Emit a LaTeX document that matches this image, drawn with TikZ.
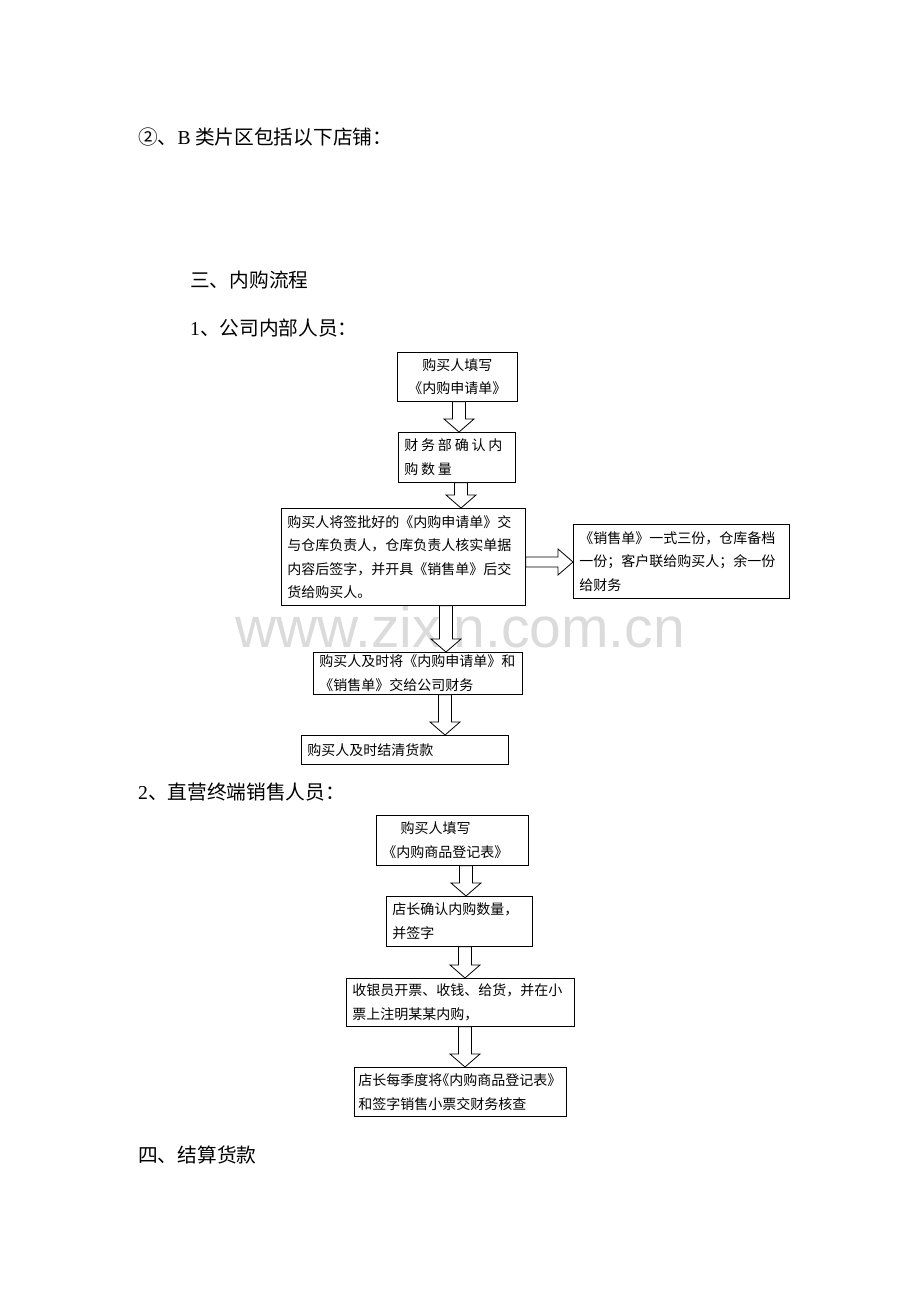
\documentclass[tikz,border=0pt]{standalone}
\usepackage{fontspec}
\setmainfont{Liberation Serif}
\newfontfamily\cjk{Noto Sans CJK SC}
\newfontfamily\wmfont{Liberation Sans}
\usetikzlibrary{calc}
\tikzset{
    box/.style={
           rectangle,
           draw=black, line width=0.8pt,
           fill=white,
           anchor=north west,
           align=left,
           inner xsep=6pt,
           inner ysep=0pt,
           font=\cjk\fontsize{14pt}{23.5pt}\selectfont,
           },
    title/.style={
           anchor=west,
           inner sep=0pt,
           font=\cjk\fontsize{19.7pt}{24pt}\selectfont,
           },
    hollow/.style={draw=black, line width=0.8pt, fill=white},
}
% hollow block arrows, from box to box at a given x (or y)
\newcommand{\hollowdown}[3]{%
    \path (#1.south -| #3,0) coordinate (s) (#2.north -| #3,0) coordinate (t);
    \draw[hollow] ($(s)+(-6.5,0)$) -- ($(t)+(-6.5,-13)$) -- ($(t)+(-15,-13)$) -- (t)
        -- ($(t)+(15,-13)$) -- ($(t)+(6.5,-13)$) -- ($(s)+(6.5,0)$) -- cycle;
}
\newcommand{\hollowright}[3]{%
    \path (#1.east |- 0,#3) coordinate (s) (#2.west |- 0,#3) coordinate (t);
    \draw[hollow] ($(s)+(0,-5)$) -- ($(t)+(-15,-5)$) -- ($(t)+(-15,-13)$) -- (t)
        -- ($(t)+(-15,13)$) -- ($(t)+(-15,5)$) -- ($(s)+(0,5)$) -- cycle;
}

\begin{document}
\begin{tikzpicture}[x=1pt,y=-1pt]

    \useasboundingbox (0,0) rectangle (920,1302);

    % watermark
    \node[font=\wmfont\fontsize{57pt}{57pt}\selectfont,text=black!14,inner sep=0pt]
        (wm) at (460,627) {www.zixin.com.cn};

    % headings
    \node[title] (hB)   at (138,137)  {②、{\rmfamily B} 类片区包括以下店铺：};
    \node[title] (hIII) at (190,280)  {三、内购流程};
    \node[title] (hOne) at (190,328)  {{\rmfamily 1}、公司内部人员：};
    \node[title] (hTwo) at (138,792)  {{\rmfamily 2}、直营终端销售人员：};
    \node[title] (hIV)  at (138,1155) {四、结算货款};

    % 1. company staff
    \node[box,align=center,text width=108pt,minimum height=49pt]
        (A1) at (397,352) {购买人填写\\《内购申请单》};
    \node[box,text width=105pt,minimum height=50pt]
        (A2) at (398,432) {\addfontfeature{LetterSpace=20}财务部确认内\\购数量};
    \node[box,text width=232pt,minimum height=97pt]
        (A3) at (281,508) {购买人将签批好的《内购申请单》交\\与仓库负责人，仓库负责人核实单据\\内容后签字，并开具《销售单》后交\\货给购买人。};
    \node[box,text width=204pt,minimum height=74pt]
        (A4) at (573,524) {《销售单》一式三份，仓库备档\\一份；客户联给购买人；余一份\\给财务};
    \node[box,text width=197pt,minimum height=42pt]
        (A5) at (313,652) {购买人及时将《内购申请单》和\\《销售单》交给公司财务};
    \node[box,text width=195pt,minimum height=29pt]
        (A6) at (301,735) {购买人及时结清货款};

    \hollowdown{A1}{A2}{459}
    \hollowdown{A2}{A3}{461}
    \hollowright{A3}{A4}{562}
    \hollowdown{A3}{A5}{446}
    \hollowdown{A5}{A6}{445}

    % 2. shop sales staff
    \node[box,text width=140pt,minimum height=50pt]
        (B1) at (376,815) {\hspace*{1.3em}购买人填写\\《内购商品登记表》};
    \node[box,text width=134pt,minimum height=50pt]
        (B2) at (386,896) {店长确认内购数量，\\并签字};
    \node[box,text width=216pt,minimum height=48pt]
        (B3) at (346,978) {收银员开票、收钱、给货，并在小\\票上注明某某内购，};
    \node[box,text width=204pt,inner xsep=4pt,minimum height=49pt]
        (B4) at (354,1067) {\makebox[204pt][l]{店长每季度将\kern-0.5em《内购商品登记表》}\\和签字销售小票交财务核查};

    \hollowdown{B1}{B2}{466}
    \hollowdown{B2}{B3}{465}
    \hollowdown{B3}{B4}{465}

\end{tikzpicture}
\end{document}
